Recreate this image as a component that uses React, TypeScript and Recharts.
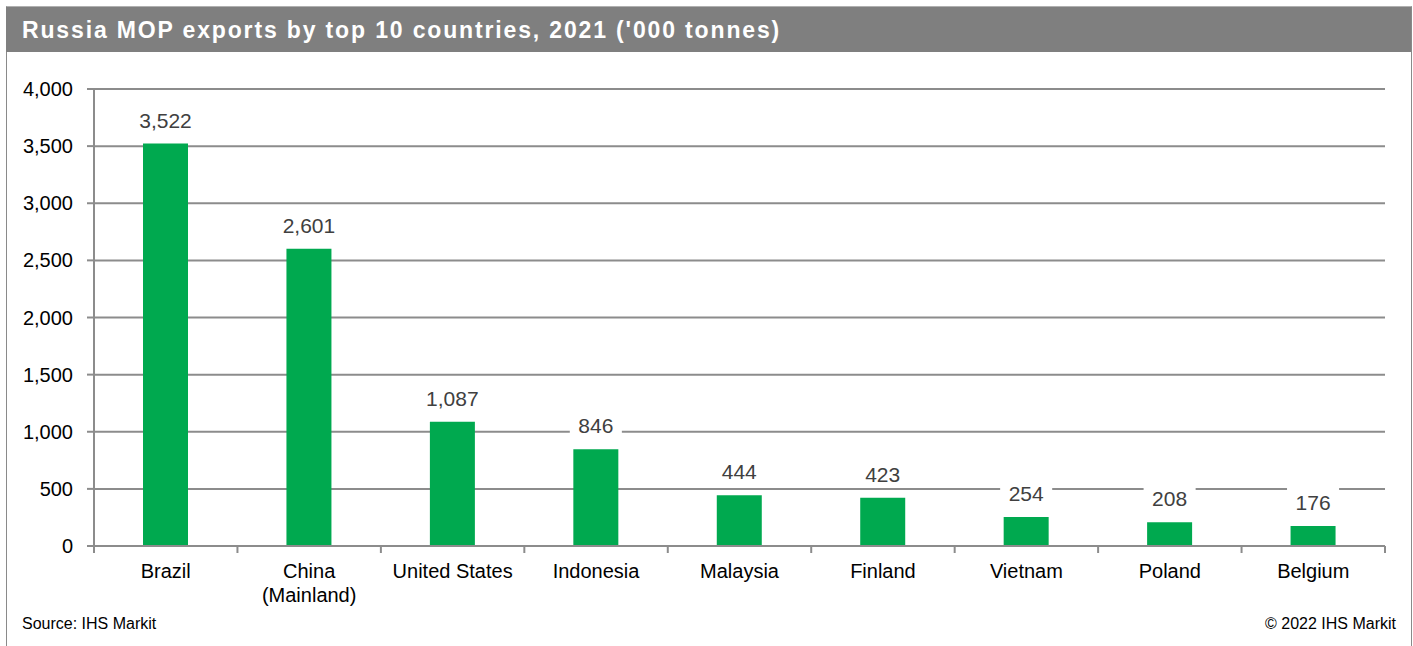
import React from 'react';
import { BarChart, Bar, XAxis, YAxis, CartesianGrid, LabelList } from 'recharts';

const categories = ['Brazil', 'China\n(Mainland)', 'United States', 'Indonesia', 'Malaysia', 'Finland', 'Vietnam', 'Poland', 'Belgium'];
const values = [3522, 2601, 1087, 846, 444, 423, 254, 208, 176];
const yTicks = [0, 500, 1000, 1500, 2000, 2500, 3000, 3500, 4000];

const data = categories.map((name, i) => ({ name, value: values[i] }));

const FONT = '"Liberation Sans", Arial, sans-serif';
const GRID = '#8c8c8c';
const fmt = (v: number) => v.toLocaleString('en-US');

const CatTick = (props: any) => {
  const { x, y, payload, index } = props;
  const off = payload && payload.offset != null ? payload.offset : 71.7;
  const lines = String(payload.value).split('\n');
  return (
    <g>
      <line x1={x - off} y1={y} x2={x - off} y2={y + 7} stroke={GRID} strokeWidth={2} />
      {index === categories.length - 1 && (
        <line x1={x + off} y1={y} x2={x + off} y2={y + 7} stroke={GRID} strokeWidth={2} />
      )}
      <text x={x} y={y + 32} textAnchor="middle" fontFamily={FONT} fontSize={20} fill="#000">
        {lines.map((l, i) => (
          <tspan key={i} x={x} dy={i === 0 ? 0 : 24}>{l}</tspan>
        ))}
      </text>
    </g>
  );
};

const textWidth = (s: string) => {
  let w = 0;
  for (const c of s) w += c === ',' ? 5.84 : 11.68;
  return w;
};

const ValueLabel = (props: any) => {
  const { x, y, width, value } = props;
  const s = fmt(Number(value));
  const cx = Number(x) + Number(width) / 2;
  const base = Number(y) - 16;
  const w = textWidth(s) + 17;
  return (
    <g>
      <rect x={cx - w / 2} y={base - 25} width={w} height={31} fill="#fff" />
      <text x={cx} y={base} textAnchor="middle" fontFamily={FONT} fontSize={21} fill="#404040">{s}</text>
    </g>
  );
};

export default function App() {
  return (
    <div style={{ position: 'absolute', left: 0, top: 0, width: 1413, height: 646, background: '#fff', overflow: 'hidden', fontFamily: FONT }}>
      <div style={{ position: 'absolute', left: 6, top: 6, width: 1404, height: 660, borderLeft: '1px solid #8a8a8a', borderRight: '1px solid #8a8a8a', borderTop: '1px solid #b0b0b0' }} />
      <div style={{ position: 'absolute', left: 6, top: 7, width: 1405, height: 45, background: '#7f7f7f', color: '#fff', fontWeight: 'bold', fontSize: 23, letterSpacing: 1.85, lineHeight: '46px', paddingLeft: 16, boxSizing: 'border-box', whiteSpace: 'nowrap' }}>
        Russia MOP exports by top 10 countries, 2021 ('000 tonnes)
      </div>
      <div style={{ position: 'absolute', left: 0, top: 0 }}>
        <BarChart width={1413} height={646} data={data} margin={{ top: 89, right: 28, left: 0, bottom: 40 }}>
          <CartesianGrid horizontal vertical={false} stroke={GRID} strokeWidth={2} />
          <XAxis dataKey="name" height={60} interval={0} axisLine={{ stroke: GRID, strokeWidth: 2 }} tickLine={false} tickSize={0} tickMargin={0} tick={<CatTick />} />
          <YAxis width={94} domain={[0, 4000]} ticks={yTicks} interval={0} tickFormatter={fmt} axisLine={{ stroke: GRID, strokeWidth: 2 }} tickLine={{ stroke: GRID, strokeWidth: 2 }} tickSize={7} tickMargin={14} tick={{ fontFamily: FONT, fontSize: 20, fill: '#000' }} />
          <Bar dataKey="value" fill="#00A94F" barSize={45} isAnimationActive={false}>
            <LabelList dataKey="value" content={<ValueLabel />} />
          </Bar>
        </BarChart>
      </div>
      <div style={{ position: 'absolute', left: 22, top: 615, fontSize: 16, color: '#000', whiteSpace: 'nowrap' }}>Source: IHS Markit</div>
      <div style={{ position: 'absolute', right: 17, top: 615, fontSize: 16, color: '#000', whiteSpace: 'nowrap' }}>© 2022 IHS Markit</div>
    </div>
  );
}
